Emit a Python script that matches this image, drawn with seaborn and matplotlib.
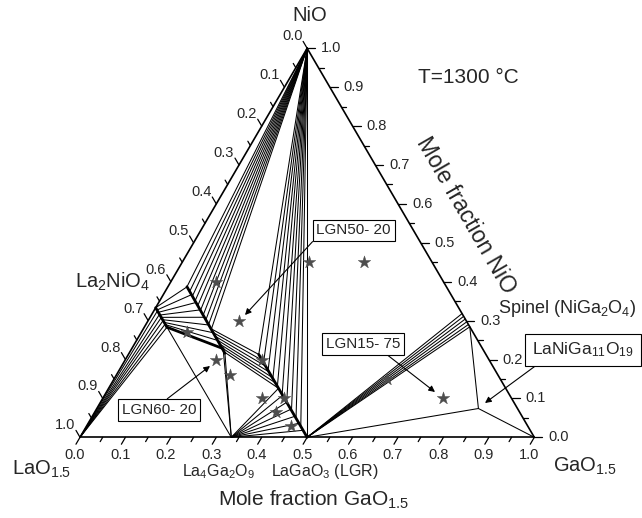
import numpy as np
import pandas as pd
import matplotlib
matplotlib.use("Agg")
import matplotlib.pyplot as plt
import seaborn as sns

sns.set_theme(style="white")
plt.rcParams['font.family'] = ['Liberation Sans', 'DejaVu Sans']
plt.rcParams['mathtext.fontset'] = 'custom'
plt.rcParams['mathtext.rm'] = 'Liberation Sans'
plt.rcParams['mathtext.it'] = 'Liberation Sans'
plt.rcParams['mathtext.default'] = 'regular'

# ---------------- data: compositions as (GaO1.5, NiO) mole fractions ----------------
LAO = (0.0, 0.0)
GAO = (1.0, 0.0)
NIO = (0.0, 1.0)
LA2NIO4 = (0.0, 0.333)
LA2_SS_END = (0.050, 0.283)
LA4_SS_START = (0.042, 0.387)
LA4_NIO_END = (0.150, 0.279)
LA4_SS_D = (0.201, 0.228)
LA4_SS_END = (0.211, 0.216)
LGN_SS_END = (0.287, 0.213)
LGN_L4_END = (0.374, 0.126)
LA4GA2O9 = (0.333, 0.0)
LGR = (0.5, 0.0)
SPINEL_HI = (0.682, 0.318)
SPINEL_LO = (0.716, 0.284)
LANIGA11 = (0.840, 0.074)

# tie-line end points (GaO1.5 fraction on solid-solution lines)
fan_lao_ga = [0.008, 0.017, 0.025, 0.033, 0.042, 0.050]            # La = 2/3 line
fan_nio_left_ga = [0.042, 0.054, 0.066, 0.078, 0.090, 0.102, 0.114, 0.126, 0.138, 0.150]  # La = 4/7
fan_nio_right_ga = [0.287, 0.308, 0.328, 0.349, 0.369, 0.390, 0.410, 0.431, 0.451, 0.472, 0.500]  # La = 1/2
hatch_l4_ga = [0.150, 0.160, 0.170, 0.180, 0.190, 0.200, 0.211]     # La = 4/7
hatch_lgn_ga = [0.287, 0.302, 0.317, 0.332, 0.346, 0.360, 0.374]    # La = 1/2
fan_l4g2_ga = [0.374, 0.392, 0.410, 0.428, 0.446, 0.464, 0.482]     # La = 1/2
quad_l2_ga = [0.000, 0.006, 0.012, 0.019, 0.025, 0.031, 0.038, 0.044, 0.050]  # La = 2/3
quad_l4_ga = [0.042, 0.062, 0.082, 0.101, 0.120, 0.140, 0.160, 0.180, 0.201]  # La = 4/7
spinel_ni = [0.318, 0.311, 0.304, 0.297, 0.290, 0.284]

# sample compositions (stars)
star_ga = [0.10, 0.20, 0.10, 0.20, 0.25, 0.35, 0.40, 0.45, 0.30, 0.40, 0.28, 0.40, 0.60, 0.75]
star_ni = [0.40, 0.30, 0.27, 0.20, 0.16, 0.10, 0.065, 0.03, 0.20, 0.10, 0.45, 0.45, 0.15, 0.10]

tick_values = [round(0.1 * i, 1) for i in range(11)]
tick_labels = [f"{v:.1f}" for v in tick_values]

# ---------------- geometry helpers ----------------
W, H = 642, 518
PX0, PX1 = 80.0, 534.3     # pixel x of LaO1.5 and GaO1.5
PY0, PY1 = 437.3, 48.3     # pixel y of base and NiO apex
sx = PX1 - PX0
sy = PY0 - PY1
x0 = -PX0 / sx
x1 = x0 + W / sx
y0 = -(H - PY0) / sy
y1 = y0 + H / sy


def tern(ga, ni):
    return ga + ni / 2.0, ni


def P(px, py):
    return x0 + px / W * (x1 - x0), y1 - py / H * (y1 - y0)


def on_line(la, ga):
    return (ga, 1.0 - la - ga)


fig = plt.figure(figsize=(W / 100, H / 100), dpi=100)
ax = fig.add_axes([0, 0, 1, 1])
ax.set_xlim(x0, x1)
ax.set_ylim(y0, y1)
ax.axis("off")

rows = []


def seg(a, b, kind="thin"):
    sid = len(rows) // 2
    for c in (a, b):
        X, Y = tern(*c)
        rows.append(dict(seg=sid, X=X, Y=Y, kind=kind))


# triangle edges
seg(LAO, GAO, "edge")
seg(GAO, NIO, "edge")
seg(NIO, LAO, "edge")

# LaO1.5 fan to La2NiO4 ss
for g in fan_lao_ga:
    seg(LAO, on_line(2 / 3, g))
# NiO fan to La4(Ni,Ga)3O10 ss
for g in fan_nio_left_ga:
    seg(NIO, on_line(4 / 7, g))
# NiO fan to LaGa(Ni)O3 ss
for g in fan_nio_right_ga:
    seg(NIO, on_line(0.5, g))
# hatch between La4 ss and LGN ss
for a, b in zip(hatch_l4_ga, hatch_lgn_ga):
    seg(on_line(4 / 7, a), on_line(0.5, b))
# La4Ga2O9 fan to LGN ss
for g in fan_l4g2_ga:
    seg(LA4GA2O9, on_line(0.5, g))
# tie lines La2NiO4 ss - La4 ss
for a, b in zip(quad_l2_ga, quad_l4_ga):
    seg(on_line(2 / 3, a), on_line(4 / 7, b))
# LGR fan to spinel
for n in spinel_ni:
    seg(LGR, (1 - n, n))

# three-phase boundaries
seg(LA2_SS_END, LA4GA2O9)
seg(LA4_SS_D, LA4GA2O9)
seg(LA4_SS_END, LA4GA2O9)
seg(SPINEL_LO, LANIGA11)
seg(LGR, LANIGA11)
seg(LANIGA11, GAO)

# solid solutions (thick)
seg(LA2NIO4, LA2_SS_END, "thick")
seg(LA4_SS_START, LA4_SS_END, "thick")
seg(LGN_SS_END, LGR, "thick")
seg(LA2_SS_END, LA4_SS_D, "thick")

df = pd.DataFrame(rows)
widths = {"thin": 0.75, "edge": 1.2, "thick": 2.0}
for kind, lw in widths.items():
    sub = df[df.kind == kind]
    sns.lineplot(data=sub, x="X", y="Y", units="seg", estimator=None, sort=False,
                 color="black", lw=lw, ax=ax, legend=False, solid_capstyle="round")

# stars
sdf = pd.DataFrame({"X": [g + n / 2 for g, n in zip(star_ga, star_ni)], "Y": star_ni})
sns.scatterplot(data=sdf, x="X", y="Y", marker="*", s=90, color="#4d4d4d",
                edgecolor="#4d4d4d", linewidth=0.3, ax=ax, zorder=5)

# ---------------- ticks ----------------
def pvec(dpx, dpy):
    return dpx / sx, -dpy / sy

minor = [0.05 * i for i in range(21)]
dir_bottom = (-0.504, 0.864)
dir_left = (-0.504, -0.864)
dir_right = (1.0, 0.0)
for i, v in enumerate(minor):
    L = 8 if i % 2 == 0 else 5
    bx, by = tern(v, 0)
    dx, dy = pvec(dir_bottom[0] * L, dir_bottom[1] * L)
    ax.plot([bx, bx + dx], [by, by + dy], color="black", lw=0.9, clip_on=False)
    lx, ly = tern(0, 1 - v)
    dx, dy = pvec(dir_left[0] * L, dir_left[1] * L)
    ax.plot([lx, lx + dx], [ly, ly + dy], color="black", lw=0.9, clip_on=False)
    rx, ry = tern(1 - v, v)
    dx, dy = pvec(dir_right[0] * L, dir_right[1] * L)
    ax.plot([rx, rx + dx], [ry, ry + dy], color="black", lw=0.9, clip_on=False)

fs_tick = 10.5
for v, lab in zip(tick_values, tick_labels):
    bx, by = tern(v, 0)
    dx, dy = pvec(-5, 18)
    ax.text(bx + dx, by + dy, lab, ha="center", va="center", fontsize=fs_tick)
    lx, ly = tern(0, 1 - v)
    dx, dy = pvec(-15, -12)
    ax.text(lx + dx, ly + dy, lab, ha="center", va="center", fontsize=fs_tick)
    rx, ry = tern(1 - v, v)
    dx, dy = pvec(14, 0)
    ax.text(rx + dx, ry + dy, lab, ha="left", va="center", fontsize=fs_tick)

# ---------------- labels ----------------
fs_big = 14.5
ax.text(*P(310, 15), "NiO", ha="center", va="center", fontsize=fs_big)
ax.text(*P(12, 475), "LaO$_{1.5}$", ha="left", va="baseline", fontsize=fs_big)
ax.text(*P(553, 472), "GaO$_{1.5}$", ha="left", va="baseline", fontsize=fs_big)
ax.text(*P(218, 506), "Mole fraction GaO$_{1.5}$", ha="left", va="baseline", fontsize=15)
ax.text(*P(466, 215), "Mole fraction NiO", ha="center", va="center", fontsize=16.5,
        rotation=-60, rotation_mode="anchor")
ax.text(*P(418, 83), "T=1300 °C", ha="left", va="baseline", fontsize=15)
ax.text(*P(75, 288), "La$_2$NiO$_4$", ha="left", va="baseline", fontsize=fs_big)
ax.text(*P(498, 313), "Spinel (NiGa$_2$O$_4$)", ha="left", va="baseline", fontsize=13)
ax.text(*P(182, 476), "La$_4$Ga$_2$O$_9$", ha="left", va="baseline", fontsize=11.5)
ax.text(*P(271, 476), "LaGaO$_3$ (LGR)", ha="left", va="baseline", fontsize=11.5)

box = dict(boxstyle="square,pad=0.25", fc="white", ec="black", lw=0.8)


def note(text, center, tip, relpos, fs=11, pad=0.25):
    b = dict(box, boxstyle=f"square,pad={pad}")
    ax.annotate(text, xy=P(*tip), xytext=P(*center), ha="center", va="center",
                fontsize=fs, bbox=b, zorder=6,
                arrowprops=dict(arrowstyle="-|>", color="black", lw=0.8,
                                relpos=relpos, shrinkA=0, shrinkB=0,
                                mutation_scale=9))


note("LGN50- 20", (353.7, 230.4), (245, 315), (0.0, 0.0))
note("LGN60- 20", (158.8, 410), (210, 366), (0.54, 1.0))
note("LGN15- 75", (363.3, 344.3), (435, 392), (0.76, 0.0))
note("LaNiGa$_{11}$O$_{19}$", (583, 350), (485, 403), (0.12, 0.0), fs=12.5, pad=0.4)

fig.savefig("out.png", dpi=100)
